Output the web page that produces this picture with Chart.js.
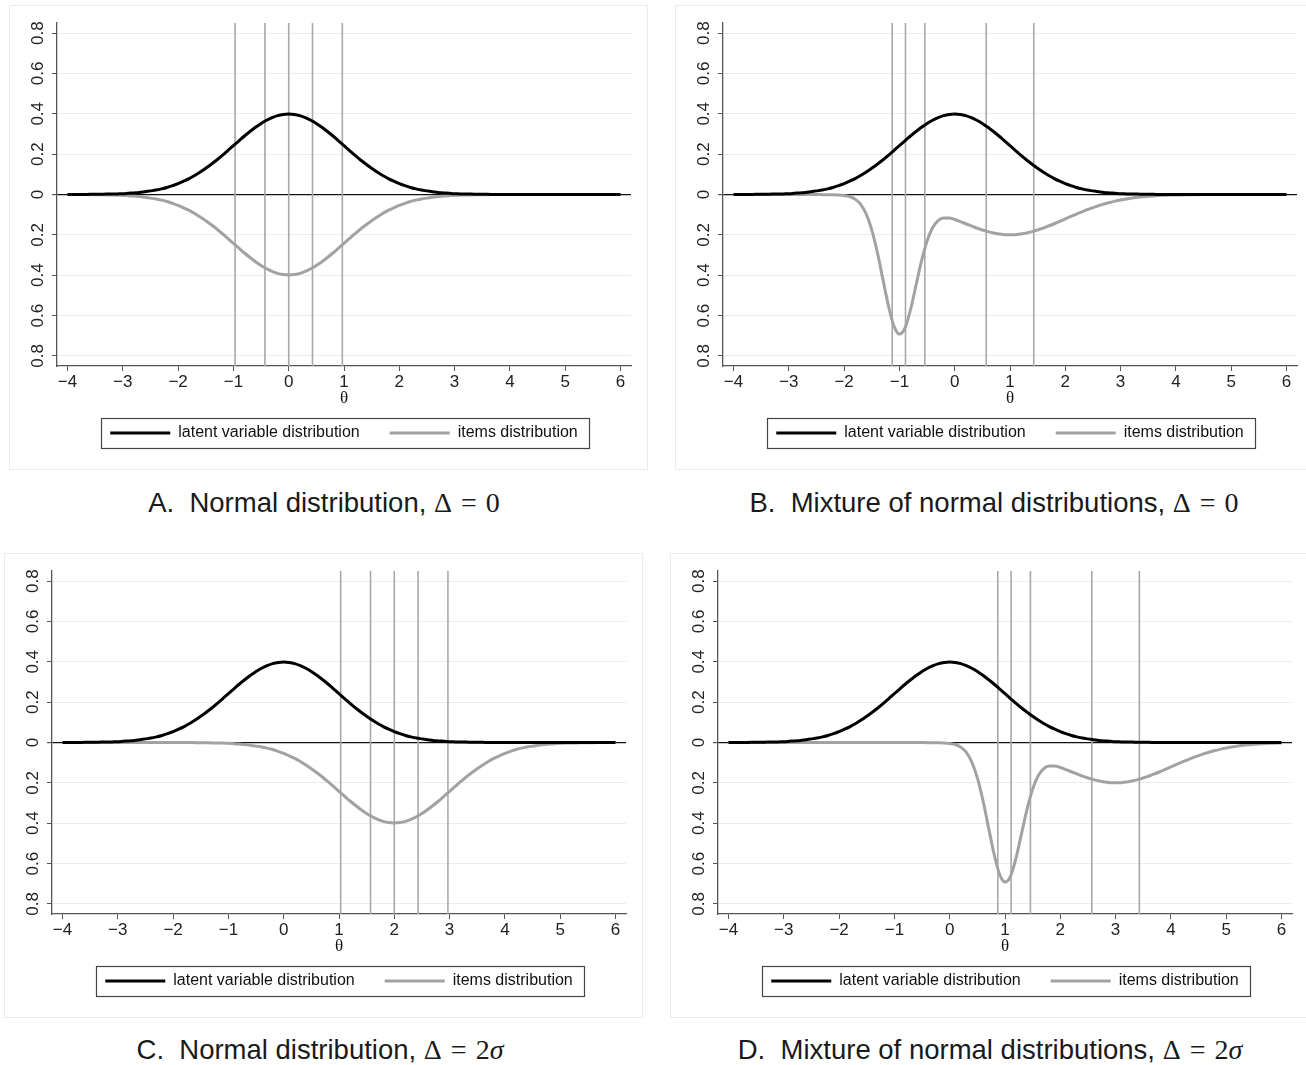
<!DOCTYPE html>
<html>
<head>
<meta charset="utf-8">
<script src="https://cdn.jsdelivr.net/npm/chart.js@4.4.1/dist/chart.umd.min.js"></script>
<style>
  html, body { margin:0; padding:0; background:#fff; width:1306px; height:1065px; overflow:hidden; }
  .panel { position:absolute; width:637px; height:463px; outline:1px solid #ebebeb; }
  .panel canvas { position:absolute; left:0; top:0; }
  .caption { position:absolute; width:700px; text-align:center; font-family:"Liberation Sans", Arial, sans-serif;
             font-size:27.5px; line-height:30px; color:#1a1a1a; white-space:nowrap; }
  .caption .math { font-family:"Liberation Serif", "DejaVu Serif", serif; font-size:28px; }
  .caption .eq { margin:0 9px; }
</style>
</head>
<body>
<div class="panel" style="left:10px;top:6px"><canvas id="panelA" width="637" height="463"></canvas></div>
<div class="panel" style="left:676px;top:6px"><canvas id="panelB" width="637" height="463"></canvas></div>
<div class="panel" style="left:5px;top:554px"><canvas id="panelC" width="637" height="463"></canvas></div>
<div class="panel" style="left:671px;top:554px"><canvas id="panelD" width="637" height="463"></canvas></div>

<div class="caption" style="left:-26px;top:488px">A.&nbsp; Normal distribution, <span class="math">&Delta;<span class="eq">=</span>0</span></div>
<div class="caption" style="left:644px;top:488px">B.&nbsp; Mixture of normal distributions, <span class="math">&Delta;<span class="eq">=</span>0</span></div>
<div class="caption" style="left:-30px;top:1035px">C.&nbsp; Normal distribution, <span class="math">&Delta;<span class="eq">=</span>2<i>&sigma;</i></span></div>
<div class="caption" style="left:640px;top:1035px">D.&nbsp; Mixture of normal distributions, <span class="math">&Delta;<span class="eq">=</span>2<i>&sigma;</i></span></div>

<script>
/* theta grid shared by every curve */
const thetaGrid = [
  -4.0,-3.9,-3.8,-3.7,-3.6,-3.5,-3.4,-3.3,-3.2,-3.1,
  -3.0,-2.9,-2.8,-2.7,-2.6,-2.5,-2.4,-2.3,-2.2,-2.1,
  -2.0,-1.9,-1.8,-1.7,-1.6,-1.5,-1.4,-1.3,-1.2,-1.1,
  -1.0,-0.9,-0.8,-0.7,-0.6,-0.5,-0.4,-0.3,-0.2,-0.1,
   0.0, 0.1, 0.2, 0.3, 0.4, 0.5, 0.6, 0.7, 0.8, 0.9,
   1.0, 1.1, 1.2, 1.3, 1.4, 1.5, 1.6, 1.7, 1.8, 1.9,
   2.0, 2.1, 2.2, 2.3, 2.4, 2.5, 2.6, 2.7, 2.8, 2.9,
   3.0, 3.1, 3.2, 3.3, 3.4, 3.5, 3.6, 3.7, 3.8, 3.9,
   4.0, 4.1, 4.2, 4.3, 4.4, 4.5, 4.6, 4.7, 4.8, 4.9,
   5.0, 5.1, 5.2, 5.3, 5.4, 5.5, 5.6, 5.7, 5.8, 5.9,
   6.0
];

// latent variable density (same in all four panels)
const latentDensity = [
  0.000,0.000,0.000,0.000,0.001,0.001,0.001,0.002,0.002,0.003,
  0.004,0.006,0.008,0.010,0.014,0.018,0.022,0.028,0.035,0.044,
  0.054,0.066,0.079,0.094,0.111,0.130,0.150,0.171,0.194,0.218,
  0.242,0.266,0.290,0.312,0.333,0.352,0.368,0.381,0.391,0.397,
  0.399,0.397,0.391,0.381,0.368,0.352,0.333,0.312,0.290,0.266,
  0.242,0.218,0.194,0.171,0.150,0.130,0.111,0.094,0.079,0.066,
  0.054,0.044,0.035,0.028,0.022,0.018,0.014,0.010,0.008,0.006,
  0.004,0.003,0.002,0.002,0.001,0.001,0.001,0.000,0.000,0.000,
  0.000,0.000,0.000,0.000,0.000,0.000,0.000,0.000,0.000,0.000,
  0.000,0.000,0.000,0.000,0.000,0.000,0.000,0.000,0.000,0.000,
  0.000
];

// items densities (drawn mirrored below zero)
const itemsNormalA = [
  0.000,0.000,0.000,0.000,0.001,0.001,0.001,0.002,0.002,0.003,
  0.004,0.006,0.008,0.010,0.014,0.018,0.022,0.028,0.035,0.044,
  0.054,0.066,0.079,0.094,0.111,0.130,0.150,0.171,0.194,0.218,
  0.242,0.266,0.290,0.312,0.333,0.352,0.368,0.381,0.391,0.397,
  0.399,0.397,0.391,0.381,0.368,0.352,0.333,0.312,0.290,0.266,
  0.242,0.218,0.194,0.171,0.150,0.130,0.111,0.094,0.079,0.066,
  0.054,0.044,0.035,0.028,0.022,0.018,0.014,0.010,0.008,0.006,
  0.004,0.003,0.002,0.002,0.001,0.001,0.001,0.000,0.000,0.000,
  0.000,0.000,0.000,0.000,0.000,0.000,0.000,0.000,0.000,0.000,
  0.000,0.000,0.000,0.000,0.000,0.000,0.000,0.000,0.000,0.000,
  0.000
];
const itemsMixtureB = [
  0.000,0.000,0.000,0.000,0.000,0.000,0.000,0.000,0.000,0.000,
  0.000,0.000,0.000,0.000,0.000,0.000,0.001,0.001,0.001,0.002,
  0.005,0.010,0.023,0.049,0.097,0.175,0.285,0.418,0.550,0.651,
  0.692,0.662,0.572,0.450,0.329,0.231,0.165,0.129,0.116,0.116,
  0.124,0.134,0.145,0.156,0.167,0.176,0.184,0.191,0.196,0.199,
  0.200,0.199,0.196,0.191,0.184,0.176,0.167,0.156,0.145,0.133,
  0.121,0.109,0.097,0.086,0.075,0.065,0.056,0.047,0.040,0.033,
  0.027,0.022,0.018,0.014,0.011,0.009,0.007,0.005,0.004,0.003,
  0.002,0.002,0.001,0.001,0.001,0.000,0.000,0.000,0.000,0.000,
  0.000,0.000,0.000,0.000,0.000,0.000,0.000,0.000,0.000,0.000,
  0.000
];
const itemsNormalC = [
  0.000,0.000,0.000,0.000,0.000,0.000,0.000,0.000,0.000,0.000,
  0.000,0.000,0.000,0.000,0.000,0.000,0.000,0.000,0.000,0.000,
  0.000,0.000,0.000,0.000,0.001,0.001,0.001,0.002,0.002,0.003,
  0.004,0.006,0.008,0.010,0.014,0.018,0.022,0.028,0.035,0.044,
  0.054,0.066,0.079,0.094,0.111,0.130,0.150,0.171,0.194,0.218,
  0.242,0.266,0.290,0.312,0.333,0.352,0.368,0.381,0.391,0.397,
  0.399,0.397,0.391,0.381,0.368,0.352,0.333,0.312,0.290,0.266,
  0.242,0.218,0.194,0.171,0.150,0.130,0.111,0.094,0.079,0.066,
  0.054,0.044,0.035,0.028,0.022,0.018,0.014,0.010,0.008,0.006,
  0.004,0.003,0.002,0.002,0.001,0.001,0.001,0.000,0.000,0.000,
  0.000
];
const itemsMixtureD = [
  0.000,0.000,0.000,0.000,0.000,0.000,0.000,0.000,0.000,0.000,
  0.000,0.000,0.000,0.000,0.000,0.000,0.000,0.000,0.000,0.000,
  0.000,0.000,0.000,0.000,0.000,0.000,0.000,0.000,0.000,0.000,
  0.000,0.000,0.000,0.000,0.000,0.000,0.001,0.001,0.001,0.002,
  0.005,0.010,0.023,0.049,0.097,0.175,0.285,0.418,0.550,0.651,
  0.692,0.662,0.572,0.450,0.329,0.231,0.165,0.129,0.116,0.116,
  0.124,0.134,0.145,0.156,0.167,0.176,0.184,0.191,0.196,0.199,
  0.200,0.199,0.196,0.191,0.184,0.176,0.167,0.156,0.145,0.133,
  0.121,0.109,0.097,0.086,0.075,0.065,0.056,0.047,0.040,0.033,
  0.027,0.022,0.018,0.014,0.011,0.009,0.007,0.005,0.004,0.003,
  0.002
];

// item location cut lines (vertical)
const cutsA = [-0.97, -0.43, 0.00, 0.43, 0.97];
const cutsB = [-1.13, -0.89, -0.54, 0.57, 1.43];
const cutsC = [1.03, 1.57, 2.00, 2.43, 2.97];
const cutsD = [0.87, 1.11, 1.46, 2.57, 3.43];

const xTickValues = [-4, -3, -2, -1, 0, 1, 2, 3, 4, 5, 6];
const xTickLabels = ['\u22124', '\u22123', '\u22122', '\u22121', '0', '1', '2', '3', '4', '5', '6'];
const yTickValues = [-0.8, -0.6, -0.4, -0.2, 0, 0.2, 0.4, 0.6, 0.8];
const yTickLabels = ['0.8', '0.6', '0.4', '0.2', '0', '0.2', '0.4', '0.6', '0.8'];
const seriesLabels = ['latent variable distribution', 'items distribution'];

const SANS = '"Liberation Sans", Arial, Helvetica, sans-serif';
const SERIF = '"Liberation Serif", "DejaVu Serif", serif';
Chart.defaults.font.family = SANS;
Chart.defaults.font.size = 16;
Chart.defaults.color = '#222';

// vertical cut lines + frame round the legend
const stataDecor = {
  id: 'stataDecor',
  beforeDatasetsDraw(chart, args, opts) {
    const { ctx, chartArea: a, scales: { x } } = chart;
    ctx.save();
    ctx.strokeStyle = '#a8a8a8';
    ctx.lineWidth = 1.6;
    (opts.cuts || []).forEach(q => {
      const px = x.getPixelForValue(q);
      ctx.beginPath(); ctx.moveTo(px, a.top); ctx.lineTo(px, a.bottom); ctx.stroke();
    });
    ctx.restore();
  },
  afterDraw(chart) {
    const boxes = chart.legend && chart.legend.legendHitBoxes;
    if (!boxes || !boxes.length) return;
    const ctx = chart.ctx;
    const first = boxes[0], last = boxes[boxes.length - 1];
    const cy = Math.round(first.top + first.height / 2);
    const left = Math.round(first.left - 9), right = Math.round(last.left + last.width + 11);
    ctx.save();
    ctx.strokeStyle = '#444';
    ctx.lineWidth = 1.2;
    ctx.strokeRect(left + 0.5, cy - 15 + 0.5, right - left, 30);
    ctx.restore();
  }
};

function drawPanel(canvasId, items, cuts) {
  const ctx = document.getElementById(canvasId).getContext('2d');
  return new Chart(ctx, {
    type: 'line',
    data: {
      datasets: [{
        label: seriesLabels[0],
        data: thetaGrid.map((t, i) => ({ x: t, y: latentDensity[i] })),
        borderColor: '#000', backgroundColor: '#000',
        borderWidth: 3, pointRadius: 0, cubicInterpolationMode: 'monotone', fill: false
      }, {
        label: seriesLabels[1],
        data: thetaGrid.map((t, i) => ({ x: t, y: -items[i] })),
        borderColor: '#a2a2a2', backgroundColor: '#a2a2a2',
        borderWidth: 3, pointRadius: 0, cubicInterpolationMode: 'monotone', fill: false
      }]
    },
    options: {
      responsive: false, animation: false,
      layout: { padding: { top: 17, right: 16, bottom: 18, left: 0 } },
      plugins: {
        tooltip: { enabled: false },
        stataDecor: { cuts },
        legend: {
          position: 'bottom', fullSize: false,
          labels: {
            color: '#111', font: { size: 16 }, boxWidth: 60, boxHeight: 3, padding: 30,
            generateLabels: c => Chart.defaults.plugins.legend.labels.generateLabels(c)
              .map(l => ({ ...l, lineWidth: 0, fillStyle: l.strokeStyle }))
          }
        }
      },
      scales: {
        x: {
          type: 'linear', min: -4.19, max: 6.19,
          afterBuildTicks: s => { s.ticks = xTickValues.map(v => ({ value: v })); },
          afterFit: s => { s.height = 29; },
          ticks: { autoSkip: false, maxRotation: 0, padding: 1, color: '#222', font: { size: 17 },
                   callback: (v, i) => xTickLabels[i] },
          grid: { drawOnChartArea: false, drawTicks: true, tickLength: 5, tickColor: '#555' },
          border: { display: true, color: '#555', width: 1.3 },
          title: { display: true, text: '\u03b8', color: '#111',
                   font: { family: SERIF, size: 17 }, padding: { top: 0, bottom: -14 } }
        },
        y: {
          type: 'linear', min: -0.85, max: 0.85,
          afterBuildTicks: s => { s.ticks = yTickValues.map(v => ({ value: v })); },
          afterFit: s => { s.width = 47; },
          ticks: { autoSkip: false, minRotation: 90, maxRotation: 90, crossAlign: 'center',
                   padding: 2, color: '#222', font: { size: 17 }, callback: (v, i) => yTickLabels[i] },
          grid: {
            drawTicks: true, tickLength: 5, tickColor: '#555',
            color: c => (c.tick && c.tick.value === 0) ? '#111' : '#ececec',
            lineWidth: c => (c.tick && c.tick.value === 0) ? 1.2 : 1
          },
          border: { display: true, color: '#555', width: 1.3 }
        }
      }
    },
    plugins: [stataDecor]
  });
}

drawPanel('panelA', itemsNormalA, cutsA);
drawPanel('panelB', itemsMixtureB, cutsB);
drawPanel('panelC', itemsNormalC, cutsC);
drawPanel('panelD', itemsMixtureD, cutsD);
</script>
</body>
</html>
